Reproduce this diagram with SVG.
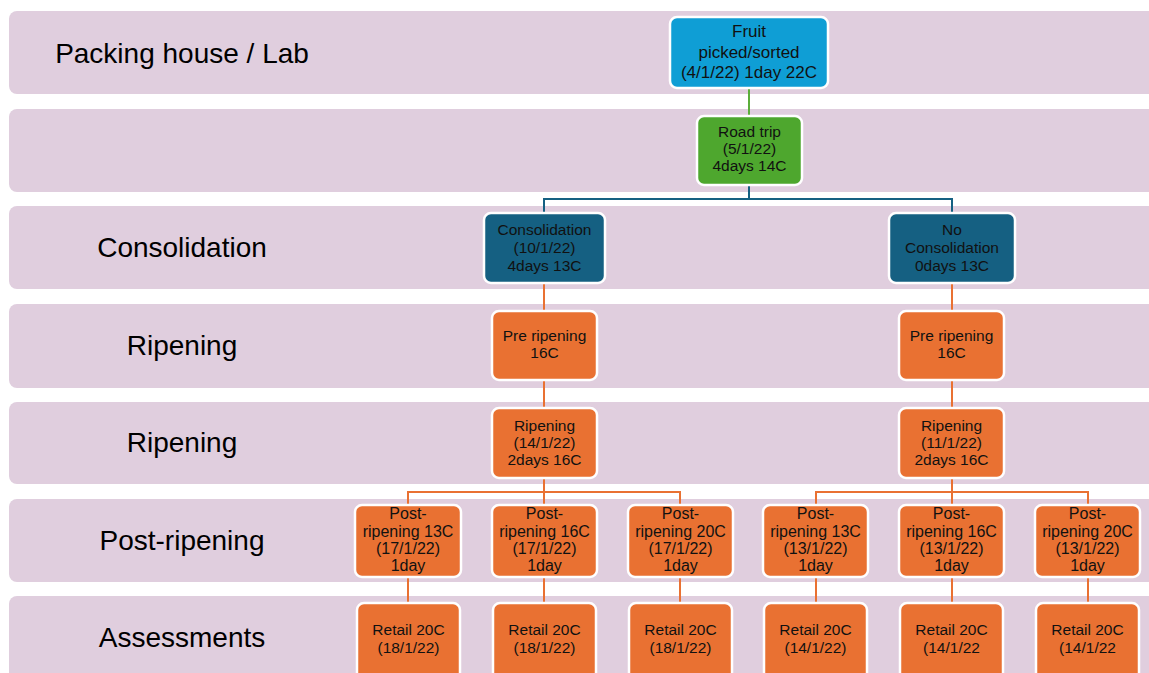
<svg xmlns="http://www.w3.org/2000/svg" width="1149" height="673" viewBox="0 0 1149 673">
  <style>
    .band { fill: #E0CEDE; }
    .lane { font-family: "Liberation Sans", Arial, sans-serif; font-size: 28px; fill: #000; text-anchor: middle; }
    .box { stroke: #FFFFFF; stroke-width: 2.5; }
    .blue { fill: #0F9ED5; }
    .green { fill: #4EA72E; }
    .teal { fill: #156082; }
    .orange { fill: #E97132; }
    .t { font-family: "Liberation Sans", Arial, sans-serif; font-size: 15.5px; fill: #111; text-anchor: middle; }
    .big { font-size: 17px; }
    .post { font-size: 16px; }
    .c-green { stroke: #5BAE3A; stroke-width: 2; fill: none; }
    .c-teal { stroke: #156082; stroke-width: 2; fill: none; }
    .c-orange { stroke: #E97132; stroke-width: 2; fill: none; }
  </style>

  <!-- swimlane bands -->
  <g id="lanes">
    <rect class="band" x="9" y="11" width="1160" height="83" rx="8"/>
    <rect class="band" x="9" y="109" width="1160" height="83" rx="8"/>
    <rect class="band" x="9" y="206" width="1160" height="83" rx="8"/>
    <rect class="band" x="9" y="304" width="1160" height="84" rx="8"/>
    <rect class="band" x="9" y="402" width="1160" height="82" rx="8"/>
    <rect class="band" x="9" y="499" width="1160" height="83" rx="8"/>
    <rect class="band" x="9" y="596" width="1160" height="100" rx="8"/>
    <text class="lane" x="182" y="63">Packing house / Lab</text>
    <text class="lane" x="182" y="257">Consolidation</text>
    <text class="lane" x="182" y="355">Ripening</text>
    <text class="lane" x="182" y="452">Ripening</text>
    <text class="lane" x="182" y="550">Post-ripening</text>
    <text class="lane" x="182" y="647">Assessments</text>
  </g>

  <!-- connectors -->
  <g id="connectors">
    <path class="c-green" d="M749,88 V116"/>
    <path class="c-teal" d="M749,185 V199 M544,213 V199 H952 V213"/>
    <path class="c-orange" d="M544,283 V311 M952,283 V311"/>
    <path class="c-orange" d="M544,380 V408 M952,380 V408"/>
    <path class="c-orange" d="M544,478 V505 M408,505 V492 H680 V505"/>
    <path class="c-orange" d="M952,478 V505 M816,505 V492 H1088 V505"/>
    <path class="c-orange" d="M408,577 V603 M544,577 V603 M680,577 V603 M816,577 V603 M952,577 V603 M1088,577 V603"/>
  </g>

  <g id="fruit">
    <rect class="box blue" x="670" y="17" width="158" height="71" rx="7"/>
    <text class="t big" x="749" y="37">Fruit</text>
    <text class="t big" x="749" y="58">picked/sorted</text>
    <text class="t big" x="749" y="78">(4/1/22) 1day 22C</text>
  </g>

  <g id="road-trip">
    <rect class="box green" x="697" y="116" width="105" height="69" rx="7"/>
    <text class="t" x="749.5" y="137">Road trip</text>
    <text class="t" x="749.5" y="154">(5/1/22)</text>
    <text class="t" x="749.5" y="171">4days 14C</text>
  </g>

  <g id="consolidation">
    <rect class="box teal" x="484" y="213" width="121" height="70" rx="7"/>
    <text class="t" x="544.5" y="235">Consolidation</text>
    <text class="t" x="544.5" y="253">(10/1/22)</text>
    <text class="t" x="544.5" y="271">4days 13C</text>
  </g>

  <g id="no-consolidation">
    <rect class="box teal" x="889" y="213" width="126" height="70" rx="7"/>
    <text class="t" x="952" y="235">No</text>
    <text class="t" x="952" y="253">Consolidation</text>
    <text class="t" x="952" y="271">0days 13C</text>
  </g>

  <g id="pre-ripening-a">
    <rect class="box orange" x="492" y="311" width="105" height="69" rx="7"/>
    <text class="t" x="544.5" y="341">Pre ripening</text>
    <text class="t" x="544.5" y="358">16C</text>
  </g>

  <g id="pre-ripening-b">
    <rect class="box orange" x="899" y="311" width="105" height="69" rx="7"/>
    <text class="t" x="951.5" y="341">Pre ripening</text>
    <text class="t" x="951.5" y="358">16C</text>
  </g>

  <g id="ripening-a">
    <rect class="box orange" x="492" y="408" width="105" height="70" rx="7"/>
    <text class="t" x="544.5" y="431">Ripening</text>
    <text class="t" x="544.5" y="448">(14/1/22)</text>
    <text class="t" x="544.5" y="465">2days 16C</text>
  </g>

  <g id="ripening-b">
    <rect class="box orange" x="899" y="408" width="105" height="70" rx="7"/>
    <text class="t" x="951.5" y="431">Ripening</text>
    <text class="t" x="951.5" y="448">(11/1/22)</text>
    <text class="t" x="951.5" y="465">2days 16C</text>
  </g>

  <g id="post-ripening-a1">
    <rect class="box orange" x="355" y="505" width="106" height="72" rx="7"/>
    <text class="t post" x="408" y="519">Post-</text>
    <text class="t post" x="408" y="537">ripening 13C</text>
    <text class="t post" x="408" y="554">(17/1/22)</text>
    <text class="t post" x="408" y="571">1day</text>
  </g>
  <g id="post-ripening-a2">
    <rect class="box orange" x="492" y="505" width="105" height="72" rx="7"/>
    <text class="t post" x="544.5" y="519">Post-</text>
    <text class="t post" x="544.5" y="537">ripening 16C</text>
    <text class="t post" x="544.5" y="554">(17/1/22)</text>
    <text class="t post" x="544.5" y="571">1day</text>
  </g>
  <g id="post-ripening-a3">
    <rect class="box orange" x="628" y="505" width="105" height="72" rx="7"/>
    <text class="t post" x="680.5" y="519">Post-</text>
    <text class="t post" x="680.5" y="537">ripening 20C</text>
    <text class="t post" x="680.5" y="554">(17/1/22)</text>
    <text class="t post" x="680.5" y="571">1day</text>
  </g>
  <g id="post-ripening-b1">
    <rect class="box orange" x="763" y="505" width="105" height="72" rx="7"/>
    <text class="t post" x="815.5" y="519">Post-</text>
    <text class="t post" x="815.5" y="537">ripening 13C</text>
    <text class="t post" x="815.5" y="554">(13/1/22)</text>
    <text class="t post" x="815.5" y="571">1day</text>
  </g>
  <g id="post-ripening-b2">
    <rect class="box orange" x="899" y="505" width="105" height="72" rx="7"/>
    <text class="t post" x="951.5" y="519">Post-</text>
    <text class="t post" x="951.5" y="537">ripening 16C</text>
    <text class="t post" x="951.5" y="554">(13/1/22)</text>
    <text class="t post" x="951.5" y="571">1day</text>
  </g>
  <g id="post-ripening-b3">
    <rect class="box orange" x="1035" y="505" width="105" height="72" rx="7"/>
    <text class="t post" x="1087.5" y="519">Post-</text>
    <text class="t post" x="1087.5" y="537">ripening 20C</text>
    <text class="t post" x="1087.5" y="554">(13/1/22)</text>
    <text class="t post" x="1087.5" y="571">1day</text>
  </g>

  <g id="retail-a1">
    <rect class="box orange" x="357" y="603" width="103" height="78" rx="7"/>
    <text class="t" x="408.5" y="635">Retail 20C</text>
    <text class="t" x="408.5" y="653">(18/1/22)</text>
  </g>
  <g id="retail-a2">
    <rect class="box orange" x="493" y="603" width="103" height="78" rx="7"/>
    <text class="t" x="544.5" y="635">Retail 20C</text>
    <text class="t" x="544.5" y="653">(18/1/22)</text>
  </g>
  <g id="retail-a3">
    <rect class="box orange" x="629" y="603" width="103" height="78" rx="7"/>
    <text class="t" x="680.5" y="635">Retail 20C</text>
    <text class="t" x="680.5" y="653">(18/1/22)</text>
  </g>
  <g id="retail-b1">
    <rect class="box orange" x="764" y="603" width="103" height="78" rx="7"/>
    <text class="t" x="815.5" y="635">Retail 20C</text>
    <text class="t" x="815.5" y="653">(14/1/22)</text>
  </g>
  <g id="retail-b2">
    <rect class="box orange" x="900" y="603" width="103" height="78" rx="7"/>
    <text class="t" x="951.5" y="635">Retail 20C</text>
    <text class="t" x="951.5" y="653">(14/1/22</text>
  </g>
  <g id="retail-b3">
    <rect class="box orange" x="1036" y="603" width="103" height="78" rx="7"/>
    <text class="t" x="1087.5" y="635">Retail 20C</text>
    <text class="t" x="1087.5" y="653">(14/1/22</text>
  </g>
</svg>
